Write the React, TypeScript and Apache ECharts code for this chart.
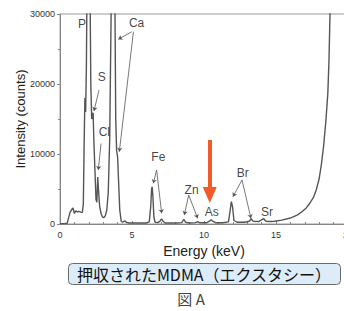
import React, { useEffect, useRef } from "react";
import * as echarts from "echarts";

// Spectrum: [energy keV, counts]
const spectrum: [number, number][] = [
  [0, 50], [0.3, 60], [0.5, 100], [0.6, 900], [0.7, 1700], [0.8, 2000], [0.9, 2300], [0.95, 1900],
  [1.0, 1500], [1.1, 1900], [1.2, 1700], [1.3, 1800], [1.45, 1700], [1.55, 1650], [1.62, 2800],
  [1.68, 12000], [1.73, 18000], [1.78, 16000], [1.83, 22000], [1.88, 35000], [2.0, 45000],
  [2.08, 35000], [2.14, 20000], [2.2, 15000], [2.3, 15900], [2.35, 12000], [2.42, 8000],
  [2.5, 3500], [2.56, 3100], [2.62, 6700], [2.67, 5000], [2.75, 2600], [2.85, 1500], [2.95, 1000],
  [3.05, 900], [3.15, 1200], [3.25, 2000], [3.35, 4500], [3.45, 12000], [3.55, 30000], [3.65, 45000],
  [3.76, 45000], [3.82, 30000], [3.87, 15000], [3.93, 10500], [4.0, 9600], [4.07, 6000], [4.15, 2000],
  [4.25, 400], [4.35, 250], [4.5, 450], [4.6, 250], [4.8, 150], [5.2, 150], [5.6, 150], [6.0, 150],
  [6.2, 300], [6.3, 2500], [6.36, 5000], [6.4, 5300], [6.45, 4000], [6.52, 1000], [6.6, 250],
  [6.8, 200], [6.95, 400], [7.05, 750], [7.15, 400], [7.3, 150], [7.7, 150], [8.1, 150], [8.45, 200],
  [8.6, 650], [8.72, 250], [9.0, 150], [9.4, 200], [9.57, 350], [9.7, 180], [10.2, 180], [10.4, 450],
  [10.5, 600], [10.6, 400], [10.8, 180], [11.3, 180], [11.7, 300], [11.82, 2000], [11.9, 3200],
  [11.98, 2500], [12.08, 500], [12.3, 250], [12.8, 250], [13.15, 400], [13.28, 750], [13.4, 400],
  [13.8, 350], [14.05, 650], [14.15, 750], [14.3, 400], [14.6, 350], [14.9, 400], [15.4, 550],
  [16.0, 850], [16.5, 1300], [16.8, 1750], [17.1, 2300], [17.36, 3000], [17.6, 3800], [17.8, 4900],
  [18.0, 6500], [18.15, 8500], [18.3, 11000], [18.47, 14900], [18.6, 18700], [18.68, 23400],
  [18.75, 30000], [18.85, 40000],
];

// Element labels: [energy, counts, name]
const elementLabels: [number, number, string][] = [
  [1.53, 28570, "P"], [2.9, 20950, "S"], [3.08, 13140, "Cl"], [5.32, 28670, "Ca"],
  [6.83, 9620, "Fe"], [9.14, 4860, "Zn"], [10.53, 1760, "As"], [12.69, 7240, "Br"], [14.38, 1760, "Sr"],
];

// Pointer lines: [x1, y1, x2, y2]
const pointers: [number, number, number, number][] = [
  [2.71, 19140, 2.36, 16140],
  [2.85, 11500, 2.66, 7710],
  [4.98, 27470, 4.05, 26380],
  [5.1, 27470, 4.12, 10330],
  [6.71, 7710, 6.48, 5810],
  [6.71, 7710, 7.06, 1530],
  [8.94, 4140, 8.63, 1290],
  [8.94, 4140, 9.56, 810],
  [12.64, 6290, 12.01, 3900],
  [12.64, 6290, 13.26, 810],
];

// Highlight arrow for As: [x, yTop, yHead]
const asArrow: [number, number, number] = [10.4, 12000, 4140];

const yTicks = [0, 10000, 20000, 30000];
const xTicks = [0, 5, 10, 15, 20];

const caption = "押収されたMDMA（エクスタシー）";
const figLabel = "図 A";

export default function App() {
  const ref = useRef<HTMLDivElement>(null);
  useEffect(() => {
    document.body.style.margin = "0";
    if (!ref.current) return;
    const chart = echarts.init(ref.current, null, { renderer: "svg" });
    const font = "'Liberation Sans', Arial, sans-serif";
    chart.setOption({
      animation: false,
      grid: {
        left: 60, top: 14, bottom: 87, right: -4,
        show: true, borderColor: "#9a9a9a", borderWidth: 1,
        outerBoundsMode: "none", containLabel: false,
      },
      xAxis: {
        type: "value", min: xTicks[0], max: xTicks[xTicks.length - 1], interval: 5,
        name: "Energy (keV)", nameLocation: "middle", nameGap: 19,
        nameTextStyle: { fontFamily: font, fontSize: 14, color: "#222" },
        axisLine: { lineStyle: { color: "#888" } },
        axisTick: { inside: true, length: 3, lineStyle: { color: "#888" } },
        minorTick: { show: true, splitNumber: 5, length: 2, lineStyle: { color: "#888" } },
        axisLabel: { fontFamily: font, fontSize: 9, color: "#333", margin: 6 },
        splitLine: { show: false },
      },
      yAxis: {
        type: "value", min: yTicks[0], max: yTicks[yTicks.length - 1], interval: 10000,
        name: "Intensity (counts)", nameLocation: "middle", nameGap: 33, nameMoveOverlap: false,
        nameTextStyle: { fontFamily: font, fontSize: 13, color: "#222" },
        axisLine: { show: true, lineStyle: { color: "#888" } },
        axisTick: { show: true, length: 3, lineStyle: { color: "#888" } },
        minorTick: { show: true, splitNumber: 2, length: 2, lineStyle: { color: "#888" } },
        axisLabel: {
          fontFamily: font, fontSize: 9, color: "#333", margin: 5,
          formatter: (v: number) => String(v),
        },
        splitLine: { show: false },
      },
      series: [
        {
          type: "line", data: spectrum, showSymbol: false, clip: true,
          lineStyle: { color: "#555", width: 1.4 },
        },
        {
          type: "scatter", data: elementLabels, symbolSize: 0, silent: true, z: 5,
          label: {
            show: true, position: [0, 0], align: "center", verticalAlign: "middle",
            formatter: (p: any) => p.data[2],
            fontFamily: font, fontSize: 12, color: "#111",
          },
          markLine: {
            silent: true, symbol: ["none", "arrow"], symbolSize: 4,
            lineStyle: { color: "#555", width: 0.8, type: "solid" },
            label: { show: false },
            data: pointers.map((p) => [{ coord: [p[0], p[1]] }, { coord: [p[2], p[3]] }]),
          },
        },
        {
          type: "line", data: [], silent: true,
          markLine: {
            silent: true, symbol: ["none", "triangle"], symbolSize: [14, 16],
            lineStyle: { color: "#f25a2a", width: 4, type: "solid" },
            itemStyle: { color: "#f25a2a" },
            label: { show: false },
            data: [[{ coord: [asArrow[0], asArrow[1]] }, { coord: [asArrow[0], asArrow[2]] }]],
          },
        },
      ],
      graphic: [
        {
          type: "rect", left: 68, top: 263,
          shape: { width: 272, height: 21, r: 4 },
          style: { fill: "#dcecf8", stroke: "#6a6a6a", lineWidth: 1 },
        },
        {
          type: "text", x: 204, y: 274,
          style: {
            text: caption, fontFamily: "'Noto Sans CJK JP', sans-serif", fontSize: 16,
            fill: "#111", align: "center", verticalAlign: "middle",
          },
        },
        {
          type: "text", x: 191, y: 298,
          style: {
            text: figLabel, fontFamily: "'Noto Sans CJK JP', sans-serif", fontSize: 15,
            fill: "#444", align: "center", verticalAlign: "middle",
          },
        },
      ],
    });
    return () => chart.dispose();
  }, []);
  return <div ref={ref} style={{ width: 344, height: 311 }} />;
}
